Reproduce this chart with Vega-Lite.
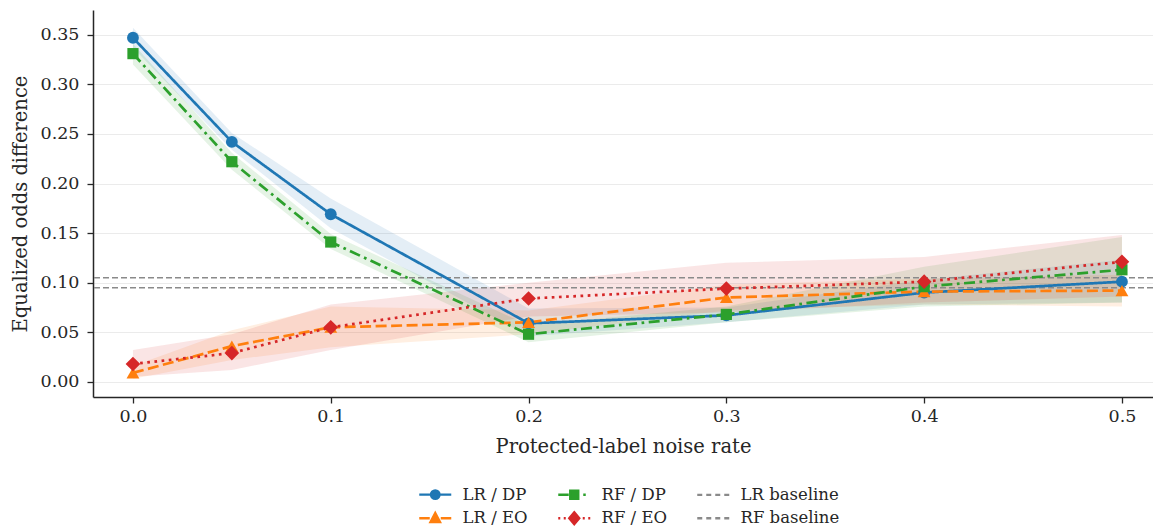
{
  "$schema": "https://vega.github.io/schema/vega-lite/v6.json",
  "autosize": {"type": "none"},
  "padding": {"left": 93, "top": 10, "right": 0, "bottom": 132},
  "width": 1060,
  "height": 387,
  "background": "white",
  "config": {
    "view": {"stroke": null},
    "font": "DejaVu Serif",
    "axis": {"labelFont": "DejaVu Serif", "titleFont": "DejaVu Serif", "labelColor": "#262626", "titleColor": "#262626", "titleFontWeight": "normal", "domainColor": "#262626", "tickColor": "#262626", "domainWidth": 1.5, "tickWidth": 1.3},
    "legend": {"labelFont": "DejaVu Serif", "orient": "none", "legendX": 318, "legendY": 476, "columns": 3,
      "padding": 0, "symbolSize": 100, "symbolStrokeWidth": 2.4, "symbolOffset": 16, "labelOffset": 19,
      "labelFontSize": 16.5, "labelColor": "#262626", "columnPadding": 22, "rowPadding": 3, "symbolOpacity": 1}
  },
  "datasets": {
    "runs": [
      {"series": "LR / DP", "x": 0.0, "y": 0.347, "lo": 0.337, "hi": 0.357},
      {"series": "LR / DP", "x": 0.05, "y": 0.242, "lo": 0.234, "hi": 0.251},
      {"series": "LR / DP", "x": 0.1, "y": 0.169, "lo": 0.155, "hi": 0.185},
      {"series": "LR / DP", "x": 0.2, "y": 0.059, "lo": 0.046, "hi": 0.074},
      {"series": "LR / DP", "x": 0.3, "y": 0.067, "lo": 0.060, "hi": 0.075},
      {"series": "LR / DP", "x": 0.4, "y": 0.090, "lo": 0.078, "hi": 0.103},
      {"series": "LR / DP", "x": 0.5, "y": 0.101, "lo": 0.080, "hi": 0.123},
      {"series": "LR / EO", "x": 0.0, "y": 0.009, "lo": 0.003, "hi": 0.016},
      {"series": "LR / EO", "x": 0.05, "y": 0.036, "lo": 0.022, "hi": 0.052},
      {"series": "LR / EO", "x": 0.1, "y": 0.055, "lo": 0.035, "hi": 0.076},
      {"series": "LR / EO", "x": 0.2, "y": 0.060, "lo": 0.048, "hi": 0.072},
      {"series": "LR / EO", "x": 0.3, "y": 0.085, "lo": 0.072, "hi": 0.098},
      {"series": "LR / EO", "x": 0.4, "y": 0.091, "lo": 0.078, "hi": 0.104},
      {"series": "LR / EO", "x": 0.5, "y": 0.092, "lo": 0.076, "hi": 0.108},
      {"series": "RF / DP", "x": 0.0, "y": 0.331, "lo": 0.320, "hi": 0.341},
      {"series": "RF / DP", "x": 0.05, "y": 0.222, "lo": 0.214, "hi": 0.231},
      {"series": "RF / DP", "x": 0.1, "y": 0.141, "lo": 0.134, "hi": 0.149},
      {"series": "RF / DP", "x": 0.2, "y": 0.048, "lo": 0.040, "hi": 0.057},
      {"series": "RF / DP", "x": 0.3, "y": 0.068, "lo": 0.060, "hi": 0.076},
      {"series": "RF / DP", "x": 0.4, "y": 0.096, "lo": 0.076, "hi": 0.116},
      {"series": "RF / DP", "x": 0.5, "y": 0.113, "lo": 0.080, "hi": 0.146},
      {"series": "RF / EO", "x": 0.0, "y": 0.018, "lo": 0.005, "hi": 0.032},
      {"series": "RF / EO", "x": 0.05, "y": 0.029, "lo": 0.012, "hi": 0.048},
      {"series": "RF / EO", "x": 0.1, "y": 0.055, "lo": 0.032, "hi": 0.078},
      {"series": "RF / EO", "x": 0.2, "y": 0.084, "lo": 0.066, "hi": 0.100},
      {"series": "RF / EO", "x": 0.3, "y": 0.094, "lo": 0.070, "hi": 0.120},
      {"series": "RF / EO", "x": 0.4, "y": 0.101, "lo": 0.080, "hi": 0.126},
      {"series": "RF / EO", "x": 0.5, "y": 0.121, "lo": 0.086, "hi": 0.148}
    ],
    "baselines": [
      {"series": "LR baseline", "value": 0.105},
      {"series": "RF baseline", "value": 0.095}
    ]
  },
  "layer": [
    {
      "data": {"name": "runs"},
      "mark": {"type": "area", "opacity": 0.12},
      "encoding": {
        "x": {"field": "x", "type": "quantitative", "scale": {"domain": [-0.0202, 0.5157], "nice": false, "zero": false},
          "axis": {"title": "Protected-label noise rate", "values": [0, 0.1, 0.2, 0.3, 0.4, 0.5], "format": ".1f", "grid": false, "labelFontSize": 17.5, "titleFontSize": 19.5, "tickSize": 6, "labelPadding": 4, "titlePadding": 13}},
        "y": {"field": "lo", "type": "quantitative", "scale": {"domain": [-0.0153, 0.375], "nice": false, "zero": false},
          "axis": {"title": "Equalized odds difference", "values": [0, 0.05, 0.1, 0.15, 0.2, 0.25, 0.3, 0.35], "format": ".2f", "grid": true, "gridColor": "#ebebeb", "gridWidth": 1.2, "labelFontSize": 17.5, "titleFontSize": 19.5, "tickSize": 6, "labelPadding": 8, "titlePadding": 10}},
        "y2": {"field": "hi"},
        "color": {"field": "series", "type": "nominal", "legend": null,
          "scale": {"domain": ["LR / DP", "RF / DP", "LR / EO", "RF / EO", "LR baseline", "RF baseline"], "range": ["#1f77b4", "#2ca02c", "#ff7f0e", "#d62728", "#8a8a8a", "#8a8a8a"]}}
      }
    },
    {
      "data": {"name": "baselines"},
      "mark": {"type": "rule", "strokeDash": [6, 3], "strokeWidth": 1.5},
      "encoding": {
        "y": {"field": "value", "type": "quantitative"},
        "color": {"field": "series", "type": "nominal", "legend": null}
      }
    },
    {
      "data": {"name": "runs"},
      "mark": {"type": "line", "strokeWidth": 2.7},
      "encoding": {
        "x": {"field": "x", "type": "quantitative"},
        "y": {"field": "y", "type": "quantitative"},
        "color": {"field": "series", "type": "nominal", "legend": null},
        "strokeDash": {"field": "series", "type": "nominal", "legend": null,
          "scale": {"domain": ["LR / DP", "LR / EO", "RF / DP", "RF / EO"], "range": [[1, 0], [11, 4.5], [11, 4.5, 2.7, 4.5], [2.7, 4.5]]}}
      }
    },
    {
      "data": {"name": "runs"},
      "transform": [{"filter": "datum.series === 'LR / DP'"}],
      "mark": {"type": "point", "filled": true, "opacity": 1, "shape": "circle", "size": 140},
      "encoding": {
        "x": {"field": "x", "type": "quantitative"},
        "y": {"field": "y", "type": "quantitative"},
        "color": {"field": "series", "type": "nominal", "legend": null}
      }
    },
    {
      "data": {"name": "runs"},
      "transform": [{"filter": "datum.series === 'LR / EO'"}],
      "mark": {"type": "point", "filled": true, "opacity": 1, "shape": "triangle-up", "size": 165},
      "encoding": {
        "x": {"field": "x", "type": "quantitative"},
        "y": {"field": "y", "type": "quantitative"},
        "color": {"field": "series", "type": "nominal", "legend": null}
      }
    },
    {
      "data": {"name": "runs"},
      "transform": [{"filter": "datum.series === 'RF / DP'"}],
      "mark": {"type": "point", "filled": true, "opacity": 1, "shape": "square", "size": 125},
      "encoding": {
        "x": {"field": "x", "type": "quantitative"},
        "y": {"field": "y", "type": "quantitative"},
        "color": {"field": "series", "type": "nominal", "legend": null}
      }
    },
    {
      "data": {"name": "runs"},
      "transform": [{"filter": "datum.series === 'RF / EO'"}],
      "mark": {"type": "point", "filled": true, "opacity": 1, "shape": "diamond", "size": 215},
      "encoding": {
        "x": {"field": "x", "type": "quantitative"},
        "y": {"field": "y", "type": "quantitative"},
        "color": {"field": "series", "type": "nominal", "legend": null}
      }
    },
    {
      "data": {"name": "runs"},
      "transform": [{"filter": "datum.x < -1"}],
      "mark": {"type": "point", "strokeWidth": 2.4},
      "encoding": {
        "x": {"field": "x", "type": "quantitative"},
        "y": {"field": "y", "type": "quantitative"},
        "fill": {"field": "series", "type": "nominal",
          "scale": {"domain": ["LR / DP", "LR / EO", "RF / DP", "RF / EO", "LR baseline", "RF baseline"], "range": ["#1f77b4", "#ff7f0e", "#2ca02c", "#d62728", "#8a8a8a", "#8a8a8a"]},
          "legend": {"title": null}},
        "stroke": {"field": "series", "type": "nominal",
          "scale": {"domain": ["LR / DP", "LR / EO", "RF / DP", "RF / EO", "LR baseline", "RF baseline"], "range": ["#1f77b4", "#ff7f0e", "#2ca02c", "#d62728", "#8a8a8a", "#8a8a8a"]},
          "legend": {"title": null}},
        "shape": {"field": "series", "type": "nominal",
          "scale": {"domain": ["LR / DP", "LR / EO", "RF / DP", "RF / EO", "LR baseline", "RF baseline"],
            "range": [
              "M-3.2,0L3.2,0M0.85,0A0.85,0.85,0,1,1,-0.85,0A0.85,0.85,0,1,1,0.85,0Z",
              "M-3.2,0L-1.1,0M1.1,0L3.2,0M0,-1.05L0.95,0.75L-0.95,0.75Z",
              "M-3.2,0L-1.1,0M0.8,-0.8L0.8,0.8L-0.8,0.8L-0.8,-0.8ZM1.8,0L2.3,0",
              "M-3.2,0L-2.8,0M-2.1,0L-1.7,0M1.7,0L2.1,0M2.8,0L3.2,0M0,-1.2L1,0L0,1.2L-1,0Z",
              "M-3.2,0L-2.2,0M-1.4,0L-0.4,0M0.4,0L1.4,0M2.2,0L3.2,0",
              "M-3.2,0L-2.2,0M-1.4,0L-0.4,0M0.4,0L1.4,0M2.2,0L3.2,0"
            ]},
          "legend": {"title": null}}
      }
    }
  ]
}
